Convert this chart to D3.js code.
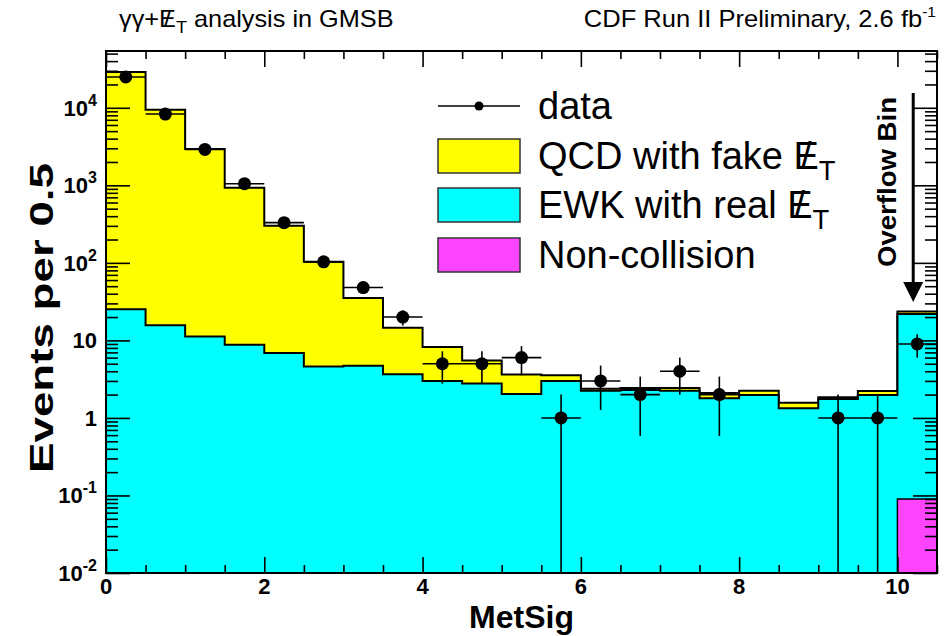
<!DOCTYPE html>
<html><head><meta charset="utf-8">
<script src="https://cdn.jsdelivr.net/npm/d3@7/dist/d3.min.js"></script>
<style>
body{margin:0;background:#fff;}
text{font-family:"Liberation Sans", Arial, Helvetica, sans-serif;}
</style>
</head><body>
<svg id="chart" width="945" height="636"></svg>
<script>
// ---------------- data ----------------
const binLow = [0,0.5,1,1.5,2,2.5,3,3.5,4,4.5,5,5.5,6,6.5,7,7.5,8,8.5,9,9.5,10];
const binWidth = 0.5;
const qcdFake = [28975, 9384, 2919, 920, 295, 98.4, 30.6, 10.9, 5.2, 2.73, 1.59, 0.56, 0.13, 0.15, 0.2, 0.29, 0.26, 0.24, 0.09, 0.25, 1.7];
const ewkReal = [25.3, 15.7, 11.2, 8.8, 6.9, 4.6, 4.7, 3.66, 3.0, 2.77, 2.04, 3.0, 2.24, 2.29, 2.24, 1.80, 1.98, 1.33, 1.76, 1.98, 21.8];
const nonCollision = [0,0,0,0,0,0,0,0,0,0,0,0,0,0,0,0,0,0,0,0,0.09];
const dataCounts = [25000, 8300, 2900, 1050, 330, 103, 48, 20, 5, 5, 6, 1, 3, 2, 4, 2, 0, 0, 1, 1, 9];
const xTickValues = [0,2,4,6,8,10];
const xTickLabels = ["0","2","4","6","8","10"];
const yTickValues = [1e-2,1e-1,1,10,1e2,1e3,1e4];
const yTickBase = ["10","10","1","10","10","10","10"];
const yTickExp  = ["-2","-1","","","2","3","4"];
const legendLabels = ["data","QCD with fake ","EWK with real ","Non-collision"];
const colors = {qcd:"#ffff00", ewk:"#00ffff", nc:"#ff44ff"};

// ---------------- layout ----------------
const L=106, R=937, T=51, B=573;
const xMin=0, xMax=10.5, yMin=0.01, yMax=54000;
const svg = d3.select("#chart");
const x = d3.scaleLinear().domain([xMin,xMax]).range([L,R]);
const y = d3.scaleLog().domain([yMin,yMax]).range([B,T]);
const yc = v => y(Math.max(v,yMin));

// stacked series
const nBins = binLow.length;
const lowStack = nonCollision.map(v=>v);
const midStack = ewkReal.map((v,i)=>v+nonCollision[i]);
const topStack = qcdFake.map((v,i)=>v+midStack[i]);

function stepPoints(vals){
  const pts = binLow.map((b,i)=>({x:b, v:vals[i]}));
  pts.push({x:binLow[nBins-1]+binWidth, v:vals[nBins-1]});
  return pts;
}
const area = d3.area().curve(d3.curveStepAfter)
  .x(d=>x(d.x)).y0(B).y1(d=>yc(d.v));

const gPlot = svg.append("g");
gPlot.append("path").datum(stepPoints(topStack)).attr("d",area)
  .attr("fill",colors.qcd).attr("stroke","#000").attr("stroke-width",2);
gPlot.append("path").datum(stepPoints(midStack)).attr("d",area)
  .attr("fill",colors.ewk).attr("stroke","#000").attr("stroke-width",2);
binLow.forEach((b,i)=>{
  if(lowStack[i]>0){
    gPlot.append("rect").attr("x",x(b)).attr("width",x(b+binWidth)-x(b))
      .attr("y",yc(lowStack[i])).attr("height",B-yc(lowStack[i]))
      .attr("fill",colors.nc).attr("stroke","#000").attr("stroke-width",1.5);
  }
});

// ---------------- axes ticks ----------------
function minorLogTicks(){
  const out=[];
  for(let e=-2;e<=4;e++){ for(let m=2;m<=9;m++){ const v=m*Math.pow(10,e); if(v<yMax) out.push(v);} }
  return out;
}
const xMinor = d3.range(0, 10.5001, 0.5).filter(v=>Math.abs(v/2-Math.round(v/2))>1e-6);
function styleAxis(g){ g.select(".domain").remove(); g.selectAll("line").attr("stroke","#000").attr("stroke-width",1.6); g.selectAll("text").remove(); }
svg.append("g").attr("transform",`translate(0,${B})`).call(d3.axisBottom(x).tickValues(xTickValues).tickSize(-16)).call(styleAxis);
svg.append("g").attr("transform",`translate(0,${B})`).call(d3.axisBottom(x).tickValues(xMinor).tickSize(-8)).call(styleAxis);
svg.append("g").attr("transform",`translate(0,${T})`).call(d3.axisTop(x).tickValues(xTickValues).tickSize(-16)).call(styleAxis);
svg.append("g").attr("transform",`translate(0,${T})`).call(d3.axisTop(x).tickValues(xMinor).tickSize(-8)).call(styleAxis);
svg.append("g").attr("transform",`translate(${L},0)`).call(d3.axisLeft(y).tickValues(yTickValues).tickSize(-24)).call(styleAxis);
svg.append("g").attr("transform",`translate(${L},0)`).call(d3.axisLeft(y).tickValues(minorLogTicks()).tickSize(-12)).call(styleAxis);
svg.append("g").attr("transform",`translate(${R},0)`).call(d3.axisRight(y).tickValues(yTickValues).tickSize(-24)).call(styleAxis);
svg.append("g").attr("transform",`translate(${R},0)`).call(d3.axisRight(y).tickValues(minorLogTicks()).tickSize(-12)).call(styleAxis);

// ---------------- data points ----------------
const gData = svg.append("g");
dataCounts.forEach((n,i)=>{
  if(n<=0) return;
  const cx = x(binLow[i]+binWidth/2);
  const err = Math.sqrt(n);
  gData.append("line").attr("x1",x(binLow[i])).attr("x2",x(binLow[i]+binWidth))
    .attr("y1",y(n)).attr("y2",y(n)).attr("stroke","#000").attr("stroke-width",1.6);
  gData.append("line").attr("x1",cx).attr("x2",cx)
    .attr("y1",yc(n+err)).attr("y2",yc(n-err)).attr("stroke","#000").attr("stroke-width",1.6);
  gData.append("circle").attr("cx",cx).attr("cy",y(n)).attr("r",6.5).attr("fill","#000");
});

// frame
svg.append("rect").attr("x",L).attr("y",T).attr("width",R-L).attr("height",B-T)
  .attr("fill","none").attr("stroke","#000").attr("stroke-width",2);

// ---------------- tick labels ----------------
svg.append("g").selectAll("text").data(xTickValues).join("text")
  .attr("x",d=>x(d)).attr("y",594).attr("text-anchor","middle")
  .attr("font-size",22).attr("font-weight","bold").text((d,i)=>xTickLabels[i]);
const yl = svg.append("g").selectAll("text").data(yTickValues).join("text")
  .attr("x",97).attr("y",d=>y(d)+8).attr("text-anchor","end")
  .attr("font-size",22).attr("font-weight","bold");
yl.each(function(d,i){
  const t=d3.select(this);
  t.append("tspan").text(yTickBase[i]);
  if(yTickExp[i]) t.append("tspan").attr("dy",-10).attr("font-size",16).text(yTickExp[i]);
});

// axis titles
svg.append("text").attr("x",(L+R)/2).attr("y",628).attr("text-anchor","middle")
  .attr("font-size",32).attr("font-weight","bold").text("MetSig");
svg.append("text").attr("transform",`translate(53,318) rotate(-90)`).attr("text-anchor","middle")
  .attr("font-size",34).attr("font-weight","bold")
  .attr("textLength",310).attr("lengthAdjust","spacingAndGlyphs").text("Events per 0.5");

// MET helper: E with slash, subscript T
function addMET(t, fs){
  t.append("tspan").text("E");
  t.append("tspan").attr("dx",-0.4725*fs).text("/");
  t.append("tspan").attr("dx",0.194*fs).attr("dy",0.28*fs).attr("font-size",0.72*fs).text("T");
}
// titles (horizontally stretched like the reference)
const t1 = svg.append("text").attr("transform","translate(119,27) scale(1.1,1)").attr("font-size",23);
t1.append("tspan").text("γγ+");
addMET(t1,23);
t1.append("tspan").attr("dy",-0.28*23).text(" analysis in GMSB");
const t2 = svg.append("text").attr("transform","translate(936,27) scale(1.11,1)").attr("font-size",23).attr("text-anchor","end");
t2.append("tspan").text("CDF Run II Preliminary, 2.6 fb");
t2.append("tspan").attr("dy",-10).attr("font-size",14).text("-1");

// ---------------- legend ----------------
const lg = svg.append("g");
const rowY = [106,156,205,255];
const boxX0=438, boxX1=520, txtX=538, fsL=38;
lg.append("line").attr("x1",boxX0).attr("x2",boxX1).attr("y1",rowY[0]).attr("y2",rowY[0]).attr("stroke","#000").attr("stroke-width",1.6);
lg.append("circle").attr("cx",(boxX0+boxX1)/2).attr("cy",rowY[0]).attr("r",4.5).attr("fill","#000");
[colors.qcd, colors.ewk, colors.nc].forEach((c,i)=>{
  lg.append("rect").attr("x",boxX0).attr("y",rowY[i+1]-17).attr("width",boxX1-boxX0).attr("height",34)
    .attr("fill",c).attr("stroke","#333").attr("stroke-width",1.5);
});
legendLabels.forEach((s,i)=>{
  const t = lg.append("text").attr("x",txtX).attr("y",rowY[i]+13).attr("font-size",fsL).text(s);
  if(i===1||i===2) addMET(t,fsL);
});

// ---------------- overflow annotation ----------------
const ovx = x(10.25)-4;
svg.append("line").attr("x1",ovx).attr("x2",ovx).attr("y1",93).attr("y2",285).attr("stroke","#000").attr("stroke-width",3);
svg.append("path").attr("d",`M${ovx-10},282 L${ovx+10},282 L${ovx},302 Z`).attr("fill","#000");
svg.append("text").attr("transform",`translate(896,182) rotate(-90)`).attr("text-anchor","middle")
  .attr("font-size",25).attr("font-weight","bold")
  .attr("textLength",170).attr("lengthAdjust","spacingAndGlyphs").text("Overflow Bin");
</script>
</body></html>
